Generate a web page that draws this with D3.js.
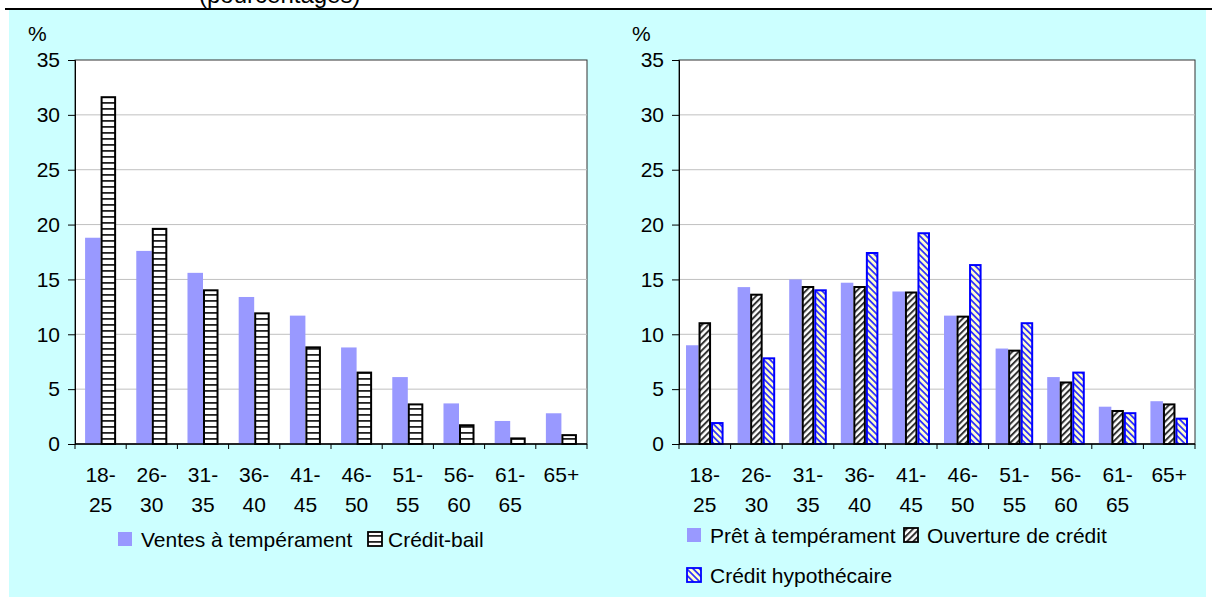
<!DOCTYPE html>
<html>
<head>
<meta charset="utf-8">
<script src="https://cdnjs.cloudflare.com/ajax/libs/d3/7.8.5/d3.min.js"></script>
<style>
    body { margin: 0; background: #ffffff; }
    svg { display: block; font-family: "Liberation Sans", Arial, sans-serif; }
</style>
</head>
<body>
<svg id="chart" width="1212" height="597"></svg>
<script>
// categories (age groups)
const ageGroups = ["18-25", "26-30", "31-35", "36-40", "41-45", "46-50", "51-55", "56-60", "61-65", "65+"];
const yTicks = [0, 5, 10, 15, 20, 25, 30, 35];

// left panel series
const ventesTemperament = [18.8, 17.6, 15.6, 13.4, 11.7, 8.8, 6.1, 3.7, 2.1, 2.8];
const creditBail = [31.7, 19.7, 14.1, 12.0, 8.9, 6.6, 3.7, 1.8, 0.6, 0.9];

// right panel series
const pretTemperament = [9.0, 14.3, 15.0, 14.7, 13.9, 11.7, 8.7, 6.1, 3.4, 3.9];
const ouvertureCredit = [11.1, 13.7, 14.4, 14.4, 13.9, 11.7, 8.6, 5.7, 3.1, 3.7];
const creditHypothecaire = [2.0, 7.9, 14.1, 17.5, 19.3, 16.4, 11.1, 6.6, 2.9, 2.4];

const seriesNames = {
    ventes: "Ventes à tempérament",
    bail: "Crédit-bail",
    pret: "Prêt à tempérament",
    ouverture: "Ouverture de crédit",
    hypo: "Crédit hypothécaire"
};

const svg = d3.select("#chart");
const FONT = 21;

// background panel + top rule
svg.append("rect").attr("x", 9).attr("y", 10).attr("width", 1197).attr("height", 587).attr("fill", "#ccffff");
svg.append("line").attr("x1", 5).attr("x2", 1212).attr("y1", 9).attr("y2", 9)
    .attr("stroke", "#000").attr("stroke-width", 2);
svg.append("text").attr("x", 199).attr("y", 3).attr("font-size", 24).text("(pourcentages)");

// fill patterns
const defs = svg.append("defs");

let p = defs.append("pattern").attr("id", "hbars").attr("patternUnits", "userSpaceOnUse")
    .attr("width", 6).attr("height", 6);
p.append("rect").attr("width", 6).attr("height", 6).attr("fill", "#fff");
p.append("rect").attr("y", 0).attr("width", 6).attr("height", 1.8).attr("fill", "#222");

p = defs.append("pattern").attr("id", "diagBlack").attr("patternUnits", "userSpaceOnUse")
    .attr("width", 4.5).attr("height", 4.5).attr("patternTransform", "rotate(45)");
p.append("rect").attr("width", 4.5).attr("height", 4.5).attr("fill", "#fff");
p.append("rect").attr("width", 2).attr("height", 4.5).attr("fill", "#333");

p = defs.append("pattern").attr("id", "diagBlue").attr("patternUnits", "userSpaceOnUse")
    .attr("width", 4.5).attr("height", 4.5).attr("patternTransform", "rotate(-45)");
p.append("rect").attr("width", 4.5).attr("height", 4.5).attr("fill", "#ffffcc");
p.append("rect").attr("width", 1.8).attr("height", 4.5).attr("fill", "#3333ff");

const styles = {
    ventes: { fill: "#9999ff", stroke: "none" },
    bail: { fill: "url(#hbars)", stroke: "#000" },
    pret: { fill: "#9999ff", stroke: "none" },
    ouverture: { fill: "url(#diagBlack)", stroke: "#000" },
    hypo: { fill: "url(#diagBlue)", stroke: "#0000ff" }
};

/**
 * One grouped bar chart panel.
 */
class GroupedBarPanel {

    constructor({ left, right, top, bottom, series, outerPad }) {
        this.left = left;
        this.top = top;
        this.width = right - left;
        this.height = bottom - top;
        this.series = series;

        this.xScale = d3.scaleBand().domain(ageGroups).range([0, this.width]).padding(0);
        this.xInner = d3.scaleBand().domain(series.map(s => s.key))
            .range([0, this.xScale.bandwidth()]).paddingInner(0).paddingOuter(outerPad);
        this.yScale = d3.scaleLinear().domain([0, 35]).range([this.height, 0]);

        this.g = svg.append("g").attr("transform", "translate(" + left + "," + top + ")");
    }

    drawFrame() {
        this.g.append("rect").attr("width", this.width).attr("height", this.height)
            .attr("fill", "#fff").attr("stroke", "#333").attr("stroke-width", 1);

        // gridlines
        this.g.append("g").selectAll("line")
            .data(yTicks.filter(t => t > 0 && t < 35))
            .enter().append("line")
            .attr("x1", 0).attr("x2", this.width)
            .attr("y1", d => this.yScale(d)).attr("y2", d => this.yScale(d))
            .attr("stroke", "#c0c0c0").attr("stroke-width", 1);
    }

    drawBars() {
        this.series.forEach(s => {
            const st = styles[s.key];
            const inset = st.stroke === "none" ? 0 : 1;
            this.g.append("g").selectAll("rect")
                .data(s.values)
                .enter().append("rect")
                .attr("x", (d, i) => this.xScale(ageGroups[i]) + this.xInner(s.key) + inset)
                .attr("width", this.xInner.bandwidth() - inset * 2)
                .attr("y", d => this.yScale(d) + inset)
                .attr("height", d => Math.max(0, this.height - this.yScale(d) - inset))
                .attr("fill", st.fill)
                .attr("stroke", st.stroke)
                .attr("stroke-width", 2);
        });
    }

    drawAxes() {
        const yAxis = d3.axisLeft(this.yScale).tickValues(yTicks).tickSize(7).tickPadding(8);
        const ya = this.g.append("g").call(yAxis);
        ya.select(".domain").attr("stroke", "#000");
        ya.selectAll(".tick line").attr("stroke", "#000");
        ya.selectAll("text").attr("font-size", FONT).attr("font-family", "inherit").attr("fill", "#000");

        // x axis: ticks on category boundaries
        const xa = this.g.append("g").attr("transform", "translate(0," + this.height + ")");
        xa.append("line").attr("x1", 0).attr("x2", this.width).attr("stroke", "#000").attr("stroke-width", 1.5);
        const bounds = ageGroups.map(c => this.xScale(c)).concat([this.width]);
        xa.selectAll(".btick").data(bounds).enter().append("line")
            .attr("x1", d => d).attr("x2", d => d).attr("y1", 0).attr("y2", 5)
            .attr("stroke", "#000");

        const labels = xa.selectAll(".lbl").data(ageGroups).enter().append("text")
            .attr("text-anchor", "middle")
            .attr("font-size", FONT)
            .attr("x", c => this.xScale(c) + this.xScale.bandwidth() / 2);
        labels.each(function (c) {
            const parts = c.includes("-") ? [c.split("-")[0] + "-", c.split("-")[1]] : [c];
            d3.select(this).selectAll("tspan").data(parts).enter().append("tspan")
                .attr("x", d3.select(this).attr("x"))
                .attr("y", (d, i) => 38 + i * 30)
                .text(d => d);
        });

        this.g.append("text").attr("x", -this.left + (this.left - 47)).attr("y", -19)
            .attr("font-size", FONT).text("%");
    }

    /**
     * @param rows array of rows, each an array of {key, x}
     */
    drawLegend(rows) {
        rows.forEach(r => {
            r.items.forEach(it => {
                const st = styles[it.key];
                const lg = svg.append("g").attr("transform", "translate(" + it.x + "," + r.y + ")");
                lg.append("rect").attr("x", 0).attr("y", -15).attr("width", 14).attr("height", 14)
                    .attr("fill", st.fill)
                    .attr("stroke", st.stroke === "none" ? "none" : st.stroke)
                    .attr("stroke-width", 1.8);
                lg.append("text").attr("x", it.key === "bail" ? 20 : 23).attr("y", 0)
                    .attr("font-size", FONT).text(seriesNames[it.key]);
            });
        });
    }
}

const leftPanel = new GroupedBarPanel({
    left: 75, right: 587, top: 60, bottom: 444, outerPad: 0.65,
    series: [
        { key: "ventes", values: ventesTemperament },
        { key: "bail", values: creditBail }
    ]
});
leftPanel.drawFrame();
leftPanel.drawBars();
leftPanel.drawAxes();
leftPanel.drawLegend([
    { y: 547, items: [{ key: "ventes", x: 118 }, { key: "bail", x: 368 }] }
]);

const rightPanel = new GroupedBarPanel({
    left: 679, right: 1195, top: 60, bottom: 444, outerPad: 0.56,
    series: [
        { key: "pret", values: pretTemperament },
        { key: "ouverture", values: ouvertureCredit },
        { key: "hypo", values: creditHypothecaire }
    ]
});
rightPanel.drawFrame();
rightPanel.drawBars();
rightPanel.drawAxes();
rightPanel.drawLegend([
    { y: 543, items: [{ key: "pret", x: 687 }, { key: "ouverture", x: 904 }] },
    { y: 583, items: [{ key: "hypo", x: 687 }] }
]);
</script>
</body>
</html>
